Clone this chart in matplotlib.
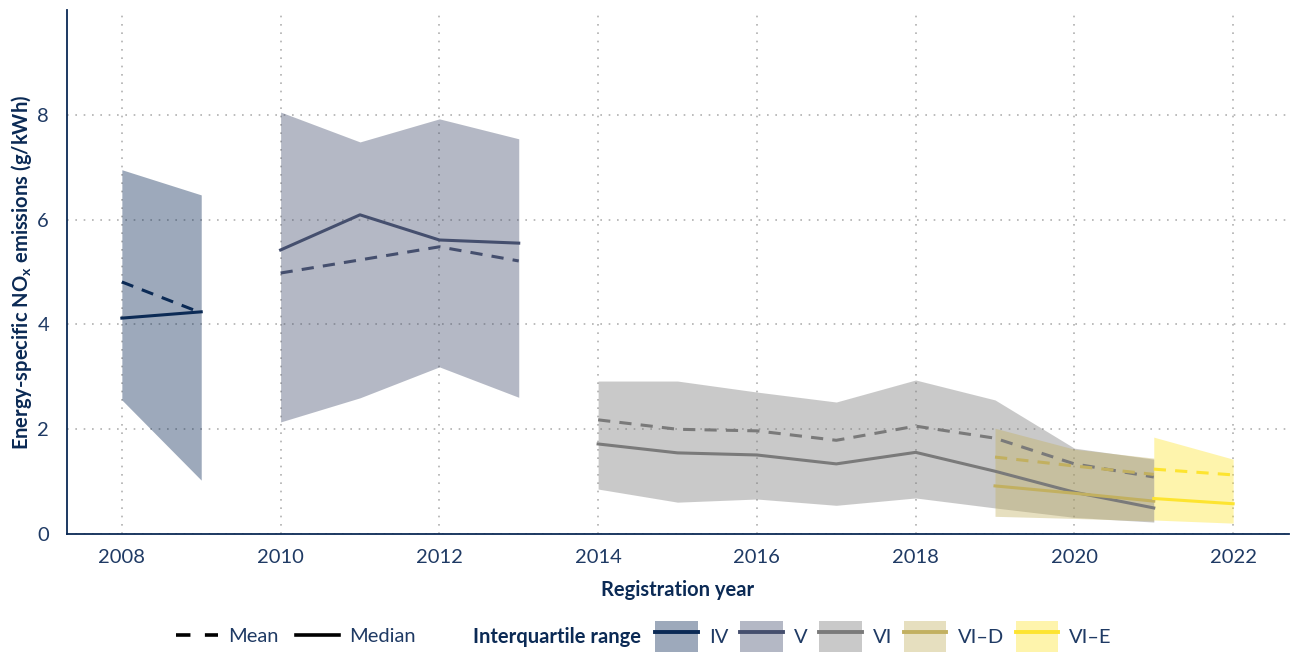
import numpy as np
import matplotlib
matplotlib.use("Agg")
import matplotlib.pyplot as plt
from matplotlib.patches import Patch
from matplotlib.lines import Line2D

plt.rcParams['font.family'] = ['Lato', 'DejaVu Sans']
plt.rcParams['mathtext.fontset'] = 'custom'
plt.rcParams['mathtext.rm'] = 'Lato'
plt.rcParams['mathtext.bf'] = 'Lato:bold'

NAVY = '#0b2a55'
TXT = '#1f3a64'
FS = 14.5

# data (g/kWh)
years_iv = [2008, 2009]
iv_lo = [2.56, 1.03]
iv_hi = [6.95, 6.47]
iv_mean = [4.81, 4.22]
iv_med = [4.12, 4.24]

years_v = [2010, 2011, 2012, 2013]
v_lo = [2.14, 2.60, 3.19, 2.61]
v_hi = [8.05, 7.48, 7.92, 7.54]
v_mean = [4.98, 5.23, 5.48, 5.21]
v_med = [5.42, 6.09, 5.61, 5.55]

years_vi = [2014, 2015, 2016, 2017, 2018, 2019, 2020, 2021]
vi_lo = [0.86, 0.61, 0.67, 0.55, 0.69, 0.50, 0.32, 0.23]
vi_hi = [2.92, 2.92, 2.71, 2.52, 2.94, 2.56, 1.64, 1.43]
vi_mean = [2.18, 2.00, 1.97, 1.79, 2.06, 1.83, 1.34, 1.09]
vi_med = [1.72, 1.55, 1.51, 1.34, 1.56, 1.20, 0.80, 0.50]

years_vid = [2019, 2020, 2021]
vid_lo = [0.34, 0.30, 0.25]
vid_hi = [2.02, 1.62, 1.45]
vid_mean = [1.47, 1.30, 1.14]
vid_med = [0.92, 0.78, 0.63]

years_vie = [2021, 2022]
vie_lo = [0.27, 0.21]
vie_hi = [1.85, 1.43]
vie_mean = [1.24, 1.13]
vie_med = [0.68, 0.58]

groups = ['IV', 'V', 'VI', 'VI\u2013D', 'VI\u2013E']
colors = ['#0b2a55', '#454f6e', '#7a7a7a', '#c2b060', '#fde430']

series = [
    (years_iv, iv_lo, iv_hi, iv_mean, iv_med),
    (years_v, v_lo, v_hi, v_mean, v_med),
    (years_vi, vi_lo, vi_hi, vi_mean, vi_med),
    (years_vid, vid_lo, vid_hi, vid_mean, vid_med),
    (years_vie, vie_lo, vie_hi, vie_mean, vie_med),
]

fig = plt.figure(figsize=(12.9, 6.53), dpi=100)
ax = fig.add_axes([0.052, 0.182, 0.947, 0.803])

for (yr, lo, hi, mn, md), c in zip(series, colors):
    ax.fill_between(yr, lo, hi, color=c, alpha=0.4, linewidth=0)
for (yr, lo, hi, mn, md), c in zip(series, colors):
    ax.plot(yr, mn, color=c, lw=2.2, ls=(0, (4, 3)))
    ax.plot(yr, md, color=c, lw=2.2)

ax.set_xlim(2007.31, 2022.7)
ax.set_ylim(0, 10)
ax.set_xticks(range(2008, 2023, 2))
ax.set_yticks([0, 2, 4, 6, 8])
ax.grid(True, color='#b0b0b0', ls=(0, (1, 4)), lw=1.2)
ax.set_axisbelow(True)
for s in ['top', 'right']:
    ax.spines[s].set_visible(False)
for s in ['left', 'bottom']:
    ax.spines[s].set_color(NAVY)
    ax.spines[s].set_linewidth(1.3)
ax.tick_params(axis='both', length=0, labelsize=FS, labelcolor=TXT)
ax.tick_params(axis='x', pad=11)
ax.tick_params(axis='y', pad=13)

ax.set_xlabel('Registration year', fontsize=FS, fontweight='bold', color=NAVY, labelpad=10)
ax.set_ylabel(r'Energy-specific NO$_{\mathregular{x}}$ emissions (g/kWh)', fontsize=FS,
              fontweight='bold', color=NAVY, labelpad=2)

# legends
h1 = [Line2D([], [], color='black', lw=2.6, ls=(0, (4, 4))),
      Line2D([], [], color='black', lw=2.6)]
leg1 = fig.legend(h1, ['Mean', 'Median'], loc='center left', bbox_to_anchor=(0.122, 0.025),
                  ncol=2, frameon=False, fontsize=FS, handlelength=2.1, columnspacing=0.9,
                  handletextpad=0.5)
for t in leg1.get_texts():
    t.set_color(TXT)

fig.text(0.367, 0.025, 'Interquartile range', fontsize=FS, fontweight='bold',
         color=NAVY, va='center')
h2 = [(Patch(facecolor=c, alpha=0.4, lw=0), Line2D([], [], color=c, lw=2.8)) for c in colors]
leg2 = fig.legend(h2, groups, loc='center left', bbox_to_anchor=(0.494, 0.025),
                  ncol=5, frameon=False, fontsize=FS, handlelength=2.1, handleheight=2.0,
                  columnspacing=0.6, handletextpad=0.55)
for t in leg2.get_texts():
    t.set_color(TXT)

fig.savefig('out.png', dpi=100)
